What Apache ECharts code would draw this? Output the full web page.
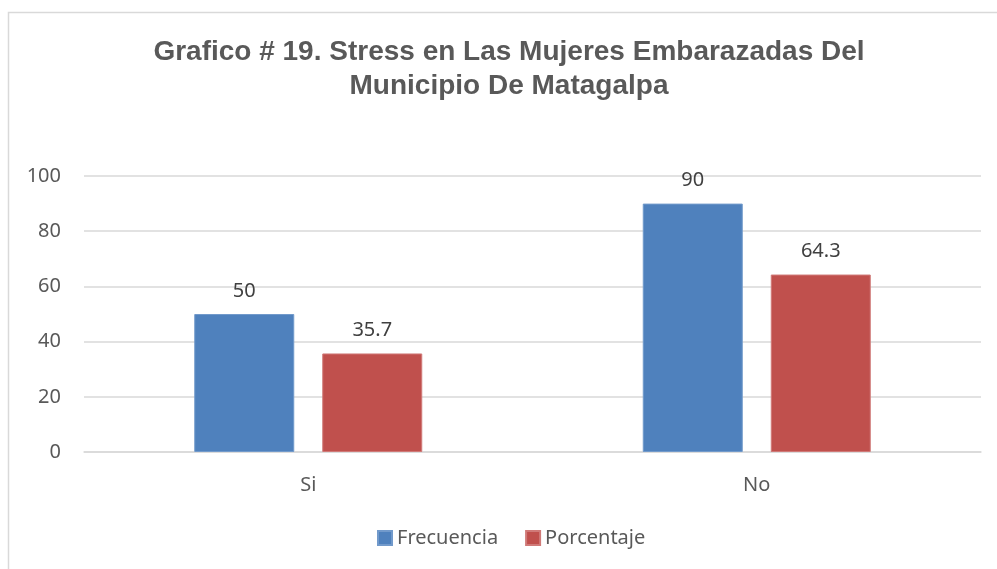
<!DOCTYPE html>
<html>
<head>
<meta charset="utf-8">
<script src="https://cdn.jsdelivr.net/npm/echarts@6/dist/echarts.min.js"></script>
<style>
    html, body { margin: 0; padding: 0; background: #fff; }
    #chart { width: 997px; height: 569px; }
</style>
</head>
<body>
<div id="chart"></div>
<script>
const categories = ['Si', 'No'];
const frecuencia = [50, 90];
const porcentaje = [35.7, 64.3];
const yTicks = [0, 20, 40, 60, 80, 100];

const chart = echarts.init(document.getElementById('chart'));

const labelStyle = {
    show: true,
    position: 'top',
    distance: 13,
    fontFamily: 'Noto Sans',
    fontSize: 20,
    color: '#404040'
};

chart.setOption({
    animation: false,
    textStyle: { fontFamily: 'Noto Sans' },
    graphic: [{
        type: 'rect',
        shape: { x: 8.5, y: 12.5, width: 1200, height: 800 },
        style: { fill: 'none', stroke: '#d9d9d9', lineWidth: 1.5 }
    }],
    title: {
        text: 'Grafico # 19. Stress en Las Mujeres Embarazadas Del\nMunicipio De Matagalpa',
        left: 504,
        top: 30,
        textAlign: 'center',
        textStyle: {
            fontFamily: 'Liberation Sans',
            fontWeight: 'bold',
            fontSize: 28,
            lineHeight: 34,
            color: '#595959'
        }
    },
    legend: {
        bottom: 16,
        left: 372,
        icon: 'rect',
        itemWidth: 14,
        itemHeight: 14,
        itemGap: 27,
        textStyle: { fontFamily: 'Noto Sans', fontSize: 20, color: '#595959' },
        data: ['Frecuencia', 'Porcentaje']
    },
    grid: { left: 84, right: 16, top: 176, bottom: 117 },
    xAxis: {
        type: 'category',
        data: categories,
        axisLine: { lineStyle: { color: '#d9d9d9', width: 1.5 } },
        axisTick: { show: false },
        axisLabel: { fontSize: 20, color: '#595959', margin: 23 }
    },
    yAxis: {
        type: 'value',
        min: yTicks[0],
        max: yTicks[yTicks.length - 1],
        interval: 20,
        axisLine: { show: false },
        axisTick: { show: false },
        splitLine: { lineStyle: { color: '#d9d9d9', width: 1.5 } },
        axisLabel: { fontSize: 20, color: '#595959', margin: 23 }
    },
    series: [
        {
            name: 'Frecuencia',
            type: 'bar',
            data: frecuencia,
            barWidth: 100,
            barGap: '28%',
            itemStyle: { color: '#4f81bd', borderColor: '#729acb', borderWidth: 1 },
            label: labelStyle
        },
        {
            name: 'Porcentaje',
            type: 'bar',
            data: porcentaje,
            barWidth: 100,
            itemStyle: { color: '#c0504d', borderColor: '#d07a78', borderWidth: 1 },
            label: labelStyle
        }
    ]
});
</script>
</body>
</html>
